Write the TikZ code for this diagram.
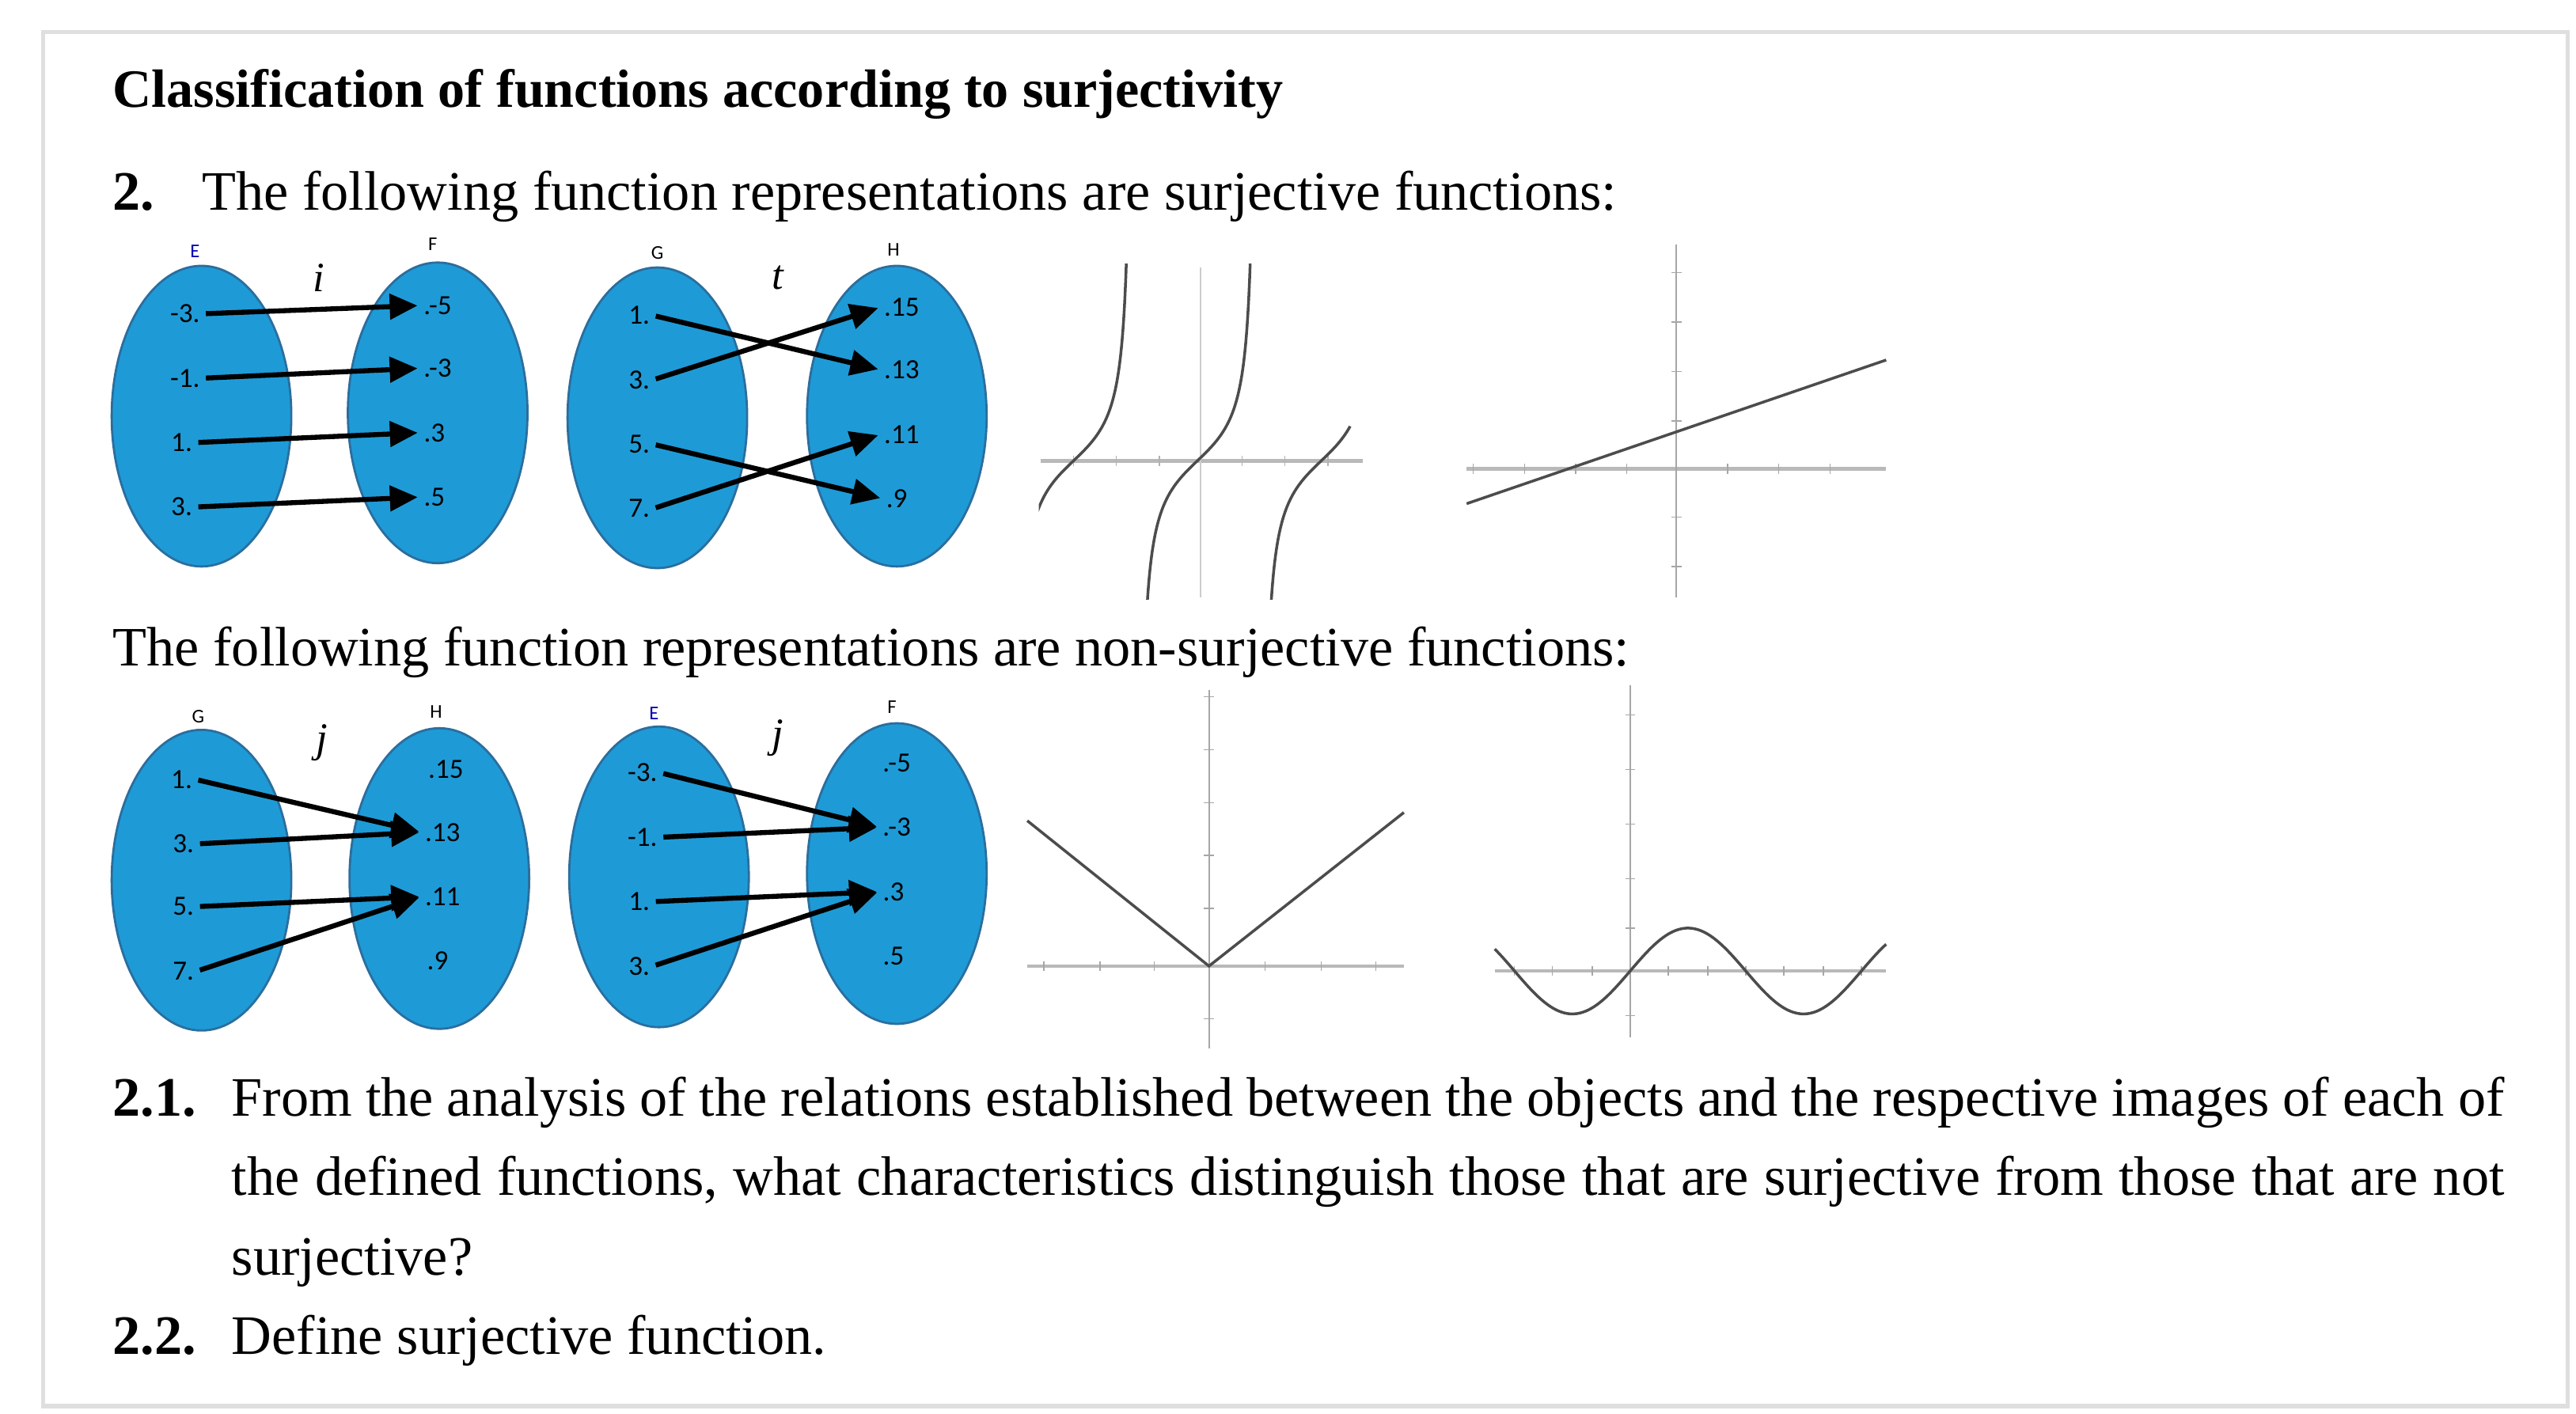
\documentclass[tikz,border=0pt]{standalone}
\usepackage{fontspec}
\setmainfont{Liberation Serif}
\newfontfamily\lblfont{Carlito}
\usetikzlibrary{shapes.geometric,arrows.meta}
\definecolor{setblue}{HTML}{1E9BD7}
\definecolor{setedge}{HTML}{2B6E9E}
\begin{document}
\begin{tikzpicture}[x=0.02087cm,y=-0.02087cm,
  set/.style={ellipse,draw=setedge,line width=0.8pt,fill=setblue,minimum width=2.27cm,minimum height=3.8cm,inner sep=0pt},
  el/.style={font=\lblfont\fontsize{10}{10}\selectfont,inner sep=1pt},
  sname/.style={font=\lblfont\fontsize{7}{7}\selectfont,inner sep=0pt},
  fname/.style={font=\itshape\fontsize{15}{15}\selectfont,inner sep=0pt},
  map/.style={-{Triangle[length=10pt,width=9pt]},line width=1.8pt,shorten <=1pt,shorten >=1pt},
  axis/.style={gray!55,line width=1.3pt},
  vaxis/.style={gray!70,line width=0.6pt},
  curve/.style={black!70,line width=1pt},
  body/.style={font=\fontsize{20}{24}\selectfont,inner sep=0pt,anchor=base west},
  num/.style={body,font=\bfseries\fontsize{20}{24}\selectfont}]
\useasboundingbox (0,0) rectangle (1559.7,855.8);
\node[draw=gray!25,line width=1.5pt,minimum width=31.9cm,minimum height=17.37cm,anchor=north west,inner sep=0pt] (frame) at (25,18) {};
% texts
\node[body,font=\bfseries\fontsize{19.4}{20}\selectfont] (title) at (68,65) {Classification of functions according to surjectivity};
\node[num] (n2) at (68,127) {2.};
\node[body] (t2) at (122,127) {The following function representations are surjective functions:};
\node[body] (tn) at (68,403) {The following function representations are non-surjective functions:};
\node[num] (n21) at (68,676) {2.1.};
\node[body] (t21a) at (140,676) {\makebox[28.72cm][s]{From the analysis of the relations established between the objects and the respective images of each of}};
\node[body] (t21b) at (140,724) {\makebox[28.72cm][s]{the defined functions, what characteristics distinguish those that are surjective from those that are not}};
\node[body] (t21c) at (140,772) {surjective?};
\node[num] (n22) at (68,820) {2.2.};
\node[body] (t22) at (140,820) {Define surjective function.};
% ---------- row 1, diagram i ----------
\node[set] (E1) at (122,252) {};
\node[set] (F1) at (265,250) {};
\node[sname,text=blue!70!black] (E1n) at (118,152) {E};
\node[sname] (F1n) at (262,148) {F};
\node[fname] (i1) at (193,168) {i};
\node[el] (a1) at (112,190) {-3.};
\node[el] (a2) at (112,229) {-1.};
\node[el] (a3) at (110,268) {1.};
\node[el] (a4) at (110,307) {3.};
\node[el] (b1) at (265,185) {.-5};
\node[el] (b2) at (265,223) {.-3};
\node[el] (b3) at (263,262) {.3};
\node[el] (b4) at (263,301) {.5};
\draw[map] (a1.east) -- (b1.west);
\draw[map] (a2.east) -- (b2.west);
\draw[map] (a3.east) -- (b3.west);
\draw[map] (a4.east) -- (b4.west);
% ---------- row 1, diagram t ----------
\node[set] (G1) at (398,253) {};
\node[set] (H1) at (543,252) {};
\node[sname] (G1n) at (398,153) {G};
\node[sname] (H1n) at (541,151) {H};
\node[fname] (t1) at (471,168) {t};
\node[el] (c1) at (387,191) {1.};
\node[el] (c2) at (387,230) {3.};
\node[el] (c3) at (387,269) {5.};
\node[el] (c4) at (387,308) {7.};
\node[el] (d1) at (546,186) {.15};
\node[el] (d2) at (546,224) {.13};
\node[el] (d3) at (546,263) {.11};
\node[el] (d4) at (543,302) {.9};
\draw[map] (c1.east) -- (d2.west);
\draw[map] (c2.east) -- (d1.west);
\draw[map] (c3.east) -- (d4.west);
\draw[map] (c4.east) -- (d3.west);
% ---------- row 1 graphs ----------
\draw[axis] (630,279) -- (825,279);
\draw[vaxis,gray!40] (727,162) -- (727,362);
\foreach \x in {650,676,702,752,778,804} \draw[gray!60] (\x,276) -- (\x,282);
\begin{scope}
\clip (629,160) rectangle (826,363);
\foreach \c/\b in {650/1.42,725/1.42,800/0.76}
  \draw[curve,domain=-1.42:\b,samples=80,smooth,variable=\t] plot ({\c+23*\t},{279-22*tan(\t r)});
\end{scope}
\draw[axis] (888,284) -- (1142,284);
\draw[vaxis] (1015,148) -- (1015,362);
\foreach \x in {892,923,954,985,1046,1077,1108} \draw[gray!70] (\x,281) -- (\x,287);
\foreach \y in {165,195,225,255,313,343} \draw[gray!70] (1012,\y) -- (1018,\y);
\draw[curve,gray!60!black] (888,305) -- (1142,218);
% ---------- row 2, diagram j (G->H) ----------
\node[set] (G2) at (122,533) {};
\node[set] (H2) at (266,532) {};
\node[sname] (G2n) at (120,434) {G};
\node[sname] (H2n) at (264,431) {H};
\node[fname] (j1) at (195,450) {j};
\node[el] (e1) at (110,472) {1.};
\node[el] (e2) at (111,511) {3.};
\node[el] (e3) at (111,549) {5.};
\node[el] (e4) at (111,588) {7.};
\node[el] (f1) at (270,466) {.15};
\node[el] (f2) at (268,504) {.13};
\node[el] (f3) at (268,543) {.11};
\node[el] (f4) at (265,582) {.9};
\draw[map] (e1.east) -- (f2.west);
\draw[map] (e2.east) -- (f2.west);
\draw[map] (e3.east) -- (f3.west);
\draw[map] (e4.east) -- (f3.west);
% ---------- row 2, diagram j (E->F) ----------
\node[set] (E2) at (399,531) {};
\node[set] (F2) at (543,529) {};
\node[sname,text=blue!70!black] (E2n) at (396,432) {E};
\node[sname] (F2n) at (540,428) {F};
\node[fname] (j2) at (471,447) {j};
\node[el] (g1) at (389,468) {-3.};
\node[el] (g2) at (389,507) {-1.};
\node[el] (g3) at (387,546) {1.};
\node[el] (g4) at (387,585) {3.};
\node[el] (h1) at (543,462) {.-5};
\node[el] (h2) at (543,501) {.-3};
\node[el] (h3) at (541,540) {.3};
\node[el] (h4) at (541,579) {.5};
\draw[map] (g1.east) -- (h2.west);
\draw[map] (g2.east) -- (h2.west);
\draw[map] (g3.east) -- (h3.west);
\draw[map] (g4.east) -- (h3.west);
% ---------- row 2 graphs ----------
\draw[axis] (622,585) -- (850,585);
\draw[vaxis] (732,418) -- (732,635);
\foreach \x in {632,666,699,766,800,833} \draw[gray!70] (\x,582) -- (\x,588);
\foreach \y in {422,454,486,518,550,617} \draw[gray!70] (729,\y) -- (735,\y);
\draw[curve,gray!60!black] (622,497) -- (732,585) -- (850,492);
\draw[axis] (905,588) -- (1142,588);
\draw[vaxis] (987,415) -- (987,628);
\foreach \x in {917,940,964,1010,1034,1057,1080,1104,1127} \draw[gray!70] (\x,585) -- (\x,591);
\foreach \y in {433,466,499,532,562,615} \draw[gray!70] (984,\y) -- (990,\y);
\draw[curve,gray!60!black,domain=905:1142,samples=120,smooth,variable=\x] plot (\x,{588-26*sin((\x-987)/70*180)});
\end{tikzpicture}
\end{document}
